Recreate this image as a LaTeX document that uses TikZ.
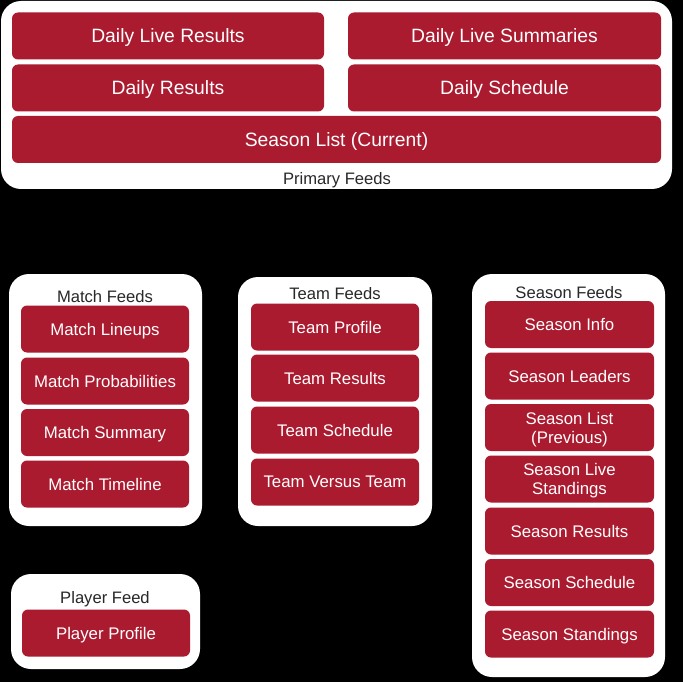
\documentclass[tikz,border=0pt]{standalone}
\usepackage{fontspec}
\setmainfont{Liberation Sans}
\usetikzlibrary{positioning}
\definecolor{feedred}{RGB}{170,27,48}
\definecolor{labelgray}{RGB}{40,40,40}

\tikzset{
  group/.style={fill=white, rounded corners=20pt, inner sep=0pt, outer sep=0pt},
  feed/.style={fill=feedred, text=white, rounded corners=6pt, inner sep=0pt,
    outer sep=0pt, minimum width=168pt, minimum height=47pt, align=center,
    text depth=0pt, font=\fontsize{16.8}{19}\selectfont},
  bigfeed/.style={feed, minimum width=312pt, font=\fontsize{19.3}{22}\selectfont},
  grouplabel/.style={text=labelgray, inner sep=0pt, text depth=0pt,
    font=\fontsize{16.6}{19}\selectfont}
}

\begin{document}
\begin{tikzpicture}[x=1pt, y=-1pt]
     \fill[black] (0,0) rectangle (683,682);
     \useasboundingbox (0,0) rectangle (683,682);

     % primary feeds
     \node[group, minimum width=671pt, minimum height=188pt] (primary) at (336.5,95) {};
     \node[bigfeed] (dlr) at (168,36)   {Daily Live Results};
     \node[bigfeed, minimum width=313pt] (dls) at (504.5,36) {Daily Live Summaries};
     \node[bigfeed] (dr)  at (168,88)   {Daily Results};
     \node[bigfeed, minimum width=313pt] (ds)  at (504.5,88) {Daily Schedule};
     \node[bigfeed, minimum width=649pt] (slc) at (336.5,139.5) {Season List (Current)};
     \node[grouplabel] (primarylabel) at (337,178) {Primary Feeds};

     % match feeds
     \node[group, minimum width=193pt, minimum height=252pt] (match) at (105.5,400) {};
     \node[grouplabel] (matchlabel) at (105,296) {Match Feeds};
     \node[feed] (mlu) at (105,329)   {Match Lineups};
     \node[feed] (mpr) at (105,381)   {Match Probabilities};
     \node[feed] (msu) at (105,432.5) {Match Summary};
     \node[feed] (mtl) at (105,484)   {Match Timeline};

     % team feeds
     \node[group, minimum width=194pt, minimum height=249pt] (team) at (335,401.5) {};
     \node[grouplabel] (teamlabel) at (335,293) {Team Feeds};
     \node[feed] (tpr) at (335,327) {Team Profile};
     \node[feed] (tre) at (335,378) {Team Results};
     \node[feed] (tsc) at (335,430) {Team Schedule};
     \node[feed] (tvt) at (335,482) {Team Versus Team};

     % season feeds
     \node[group, minimum width=193pt, minimum height=403pt] (season) at (568.5,475.5) {};
     \node[grouplabel] (seasonlabel) at (569,292) {Season Feeds};
     \node[feed, minimum width=169pt] (sin) at (569.5,324.5) {Season Info};
     \node[feed, minimum width=169pt] (sle) at (569.5,376)   {Season Leaders};
     \node[feed, minimum width=169pt] (slp) at (569.5,427.5) {Season List\\(Previous)};
     \node[feed, minimum width=169pt] (sls) at (569.5,479)   {Season Live\\Standings};
     \node[feed, minimum width=169pt] (sre) at (569.5,531)   {Season Results};
     \node[feed, minimum width=169pt] (ssc) at (569.5,582.5) {Season Schedule};
     \node[feed, minimum width=169pt] (sst) at (569.5,634)   {Season Standings};

     % player feed
     \node[group, minimum width=189pt, minimum height=95pt] (player) at (105.5,621.5) {};
     \node[grouplabel] (playerlabel) at (105,597) {Player Feed};
     \node[feed] (ppr) at (106,633) {Player Profile};
\end{tikzpicture}
\end{document}
